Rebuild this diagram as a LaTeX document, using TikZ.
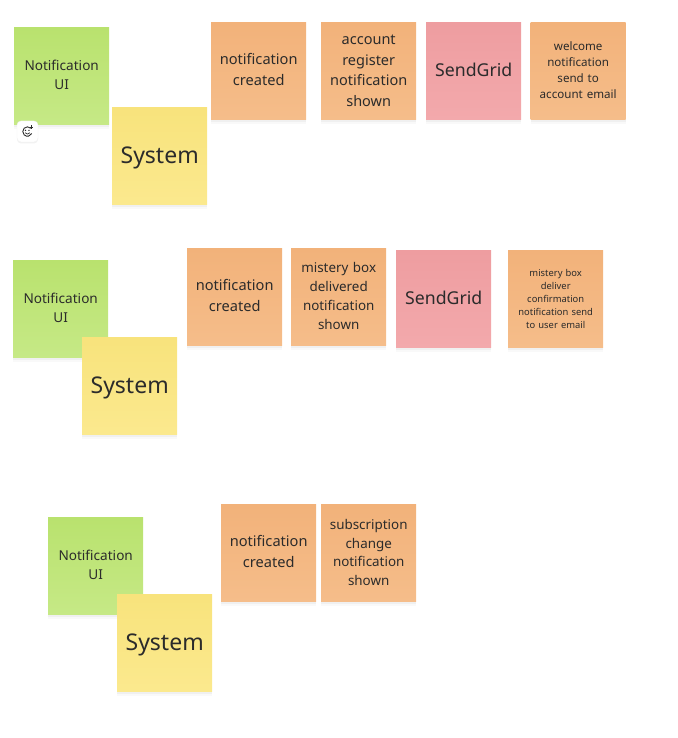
\documentclass[tikz,border=0pt]{standalone}
\usepackage{fontspec}
\setmainfont{Noto Sans}
\usetikzlibrary{shadows,positioning}
\definecolor{gTop}{HTML}{B9E26E}\definecolor{gBot}{HTML}{C6E986}
\definecolor{yTop}{HTML}{F8E37C}\definecolor{yBot}{HTML}{FBE98E}
\definecolor{oTop}{HTML}{F2B27A}\definecolor{oBot}{HTML}{F5BD8A}
\definecolor{rTop}{HTML}{EE9DA0}\definecolor{rBot}{HTML}{F3A9AC}
\definecolor{ink}{HTML}{2B2B2B}
\tikzset{
  note/.style={minimum width=95pt,minimum height=97.6pt,inner sep=2pt,align=center,text=ink,anchor=north west,
    text width=91pt,font=\fontsize{14.5}{20.5}\selectfont,
    preaction={draw=none,fill=black,fill opacity=.035,transform canvas={yshift=-2pt}},
    preaction={draw=none,fill=black,fill opacity=.025,transform canvas={yshift=-4pt}}},
  notetext/.style={text=ink,align=center,inner sep=0pt,anchor=center,text width=91pt},
  greennote/.style={note,top color=gTop,bottom color=gBot},
  yellownote/.style={note,top color=yTop,bottom color=yBot},
  orangenote/.style={note,top color=oTop,bottom color=oBot},
  rednote/.style={note,top color=rTop,bottom color=rBot},
  greentext/.style={notetext,font=\fontsize{13.6}{19.3}\selectfont},
  systemtext/.style={notetext,font=\fontsize{23}{29}\selectfont},
  twotext/.style={notetext,font=\fontsize{14.6}{21}\selectfont},
  accounttext/.style={notetext,font=\fontsize{14.5}{20.5}\selectfont},
  sendtext/.style={notetext,font=\fontsize{17.7}{24}\selectfont},
  smalltext/.style={notetext,font=\fontsize{11.6}{16}\selectfont},
  tinytext/.style={notetext,font=\fontsize{9.4}{13}\selectfont},
  fourtext/.style={notetext,font=\fontsize{13.4}{18.8}\selectfont},
  iconbox/.style={draw=black!5,fill=white,rounded corners=4pt,minimum width=21pt,minimum height=21pt,inner sep=0pt,
    preaction={draw=none,fill=black,fill opacity=.05,transform canvas={yshift=-1.5pt}}},
}
\begin{document}
\begin{tikzpicture}[x=1pt,y=-1pt]
\useasboundingbox (0,0) rectangle (677,738);
% row 1
\node[greennote,label={[greentext,yshift=1.2pt]center:{Notification\\UI}}]  (g1) at (14,27) {};
\node[yellownote,label={[systemtext,yshift=-2pt]center:{System}}] (y1) at (112,107) {};
\node[orangenote,label={[twotext,yshift=1.5pt]center:{notification\\created}}] (a1) at (211,22) {};
\node[orangenote,label={[accounttext,yshift=.2pt]center:{account\\register\\notification\\shown}}] (b1) at (321,22) {};
\node[rednote,label={[sendtext,yshift=1pt]center:{SendGrid}}] (c1) at (426,22) {};
\node[orangenote,label={[smalltext,yshift=1pt]center:{welcome\\notification\\send to\\account email}}] (d1) at (530.5,22) {};
\node[iconbox]    (ic) at (27.5,131.5) {};
\draw[ink,line width=.9pt] ([shift={(3.3,-3.3)}]ic.center) arc[start angle=45,delta angle=290,radius=4.7pt];
\fill[ink] ([shift={(-1.9,-1.1)}]ic.center) circle (.75pt) ([shift={(1.4,-1.1)}]ic.center) circle (.75pt);
\draw[ink,line width=.7pt] ([shift={(-2.3,1.3)}]ic.center) .. controls ([shift={(-1.1,3)}]ic.center) and ([shift={(1.1,3)}]ic.center) .. ([shift={(2.3,1.3)}]ic.center);
\draw[ink,line width=.8pt] ([shift={(4,-6.4)}]ic.center) -- ([shift={(4,-2.6)}]ic.center) ([shift={(2.1,-4.5)}]ic.center) -- ([shift={(5.9,-4.5)}]ic.center);
% row 2
\node[greennote,label={[greentext,yshift=1.2pt]center:{Notification\\UI}}]  (g2) at (13,260) {};
\node[yellownote,label={[systemtext,yshift=-2pt]center:{System}}] (y2) at (82,337) {};
\node[orangenote,label={[twotext,yshift=1.5pt]center:{notification\\created}}] (a2) at (187,248) {};
\node[orangenote,label={[fourtext,yshift=1pt]center:{mistery box\\delivered\\notification\\shown}}] (b2) at (291,248) {};
\node[rednote,label={[sendtext,yshift=1pt]center:{SendGrid}}] (c2) at (396,250) {};
\node[orangenote,label={[tinytext]center:{mistery box\\deliver\\confirmation\\notification send\\to user email}}] (d2) at (508,250) {};
% row 3
\node[greennote,label={[greentext,yshift=1.2pt]center:{Notification\\UI}}]  (g3) at (48,517) {};
\node[yellownote,label={[systemtext,yshift=-2pt]center:{System}}] (y3) at (117,594) {};
\node[orangenote,label={[twotext,yshift=1.5pt]center:{notification\\created}}] (a3) at (221,504) {};
\node[orangenote,label={[fourtext,yshift=.5pt]center:{subscription\\change\\notification\\shown}}] (b3) at (321,504) {};
\end{tikzpicture}
\end{document}
